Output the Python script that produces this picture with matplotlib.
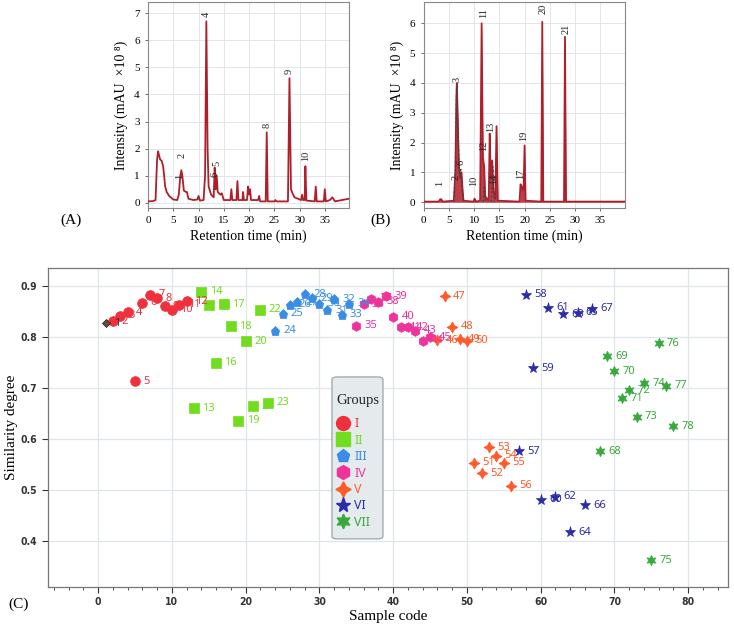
import numpy as np
import matplotlib
matplotlib.use("Agg")
import matplotlib.pyplot as plt
from matplotlib.lines import Line2D
from matplotlib.patches import FancyBboxPatch

SERIF = ['Liberation Serif', 'DejaVu Serif']
SANS = ['Noto Sans', 'DejaVu Sans']

# ---- chromatogram (A): retention time (min) / intensity (x10^8)
a_time = [0.0, 1.0, 1.5, 1.8, 2.0, 2.2, 2.4, 2.7, 3.0, 3.2, 3.4, 3.7, 4.2, 5.0, 5.8, 6.1, 6.4, 6.6, 6.8,
          7.1, 7.5, 7.7, 8.0, 9.0, 9.8, 10.0, 10.3, 11.0, 11.3, 11.55, 11.8, 12.0, 12.5, 13.0, 13.2, 13.4,
          13.6, 13.8, 14.3, 14.6, 15.0, 16.3, 16.5, 16.7, 17.5, 17.7, 17.9, 18.7, 18.8, 19.0, 19.6, 19.8,
          20.0, 20.2, 20.4, 21.8, 22.0, 22.2, 23.3, 23.5, 23.7, 25.0, 25.2, 25.4, 27.7, 28.0, 28.3, 28.6,
          29.0, 30.3, 30.5, 30.7, 31.0, 31.15, 31.35, 33.0, 33.2, 33.4, 34.8, 35.0, 35.2, 36.0, 36.5,
          37.0, 39.8]
a_int = [0.05, 0.06, 0.1, 1.6, 1.9, 1.75, 1.6, 1.55, 1.35, 1.0, 0.6, 0.4, 0.25, 0.12, 0.1, 0.3, 1.0, 1.2, 1.0,
         0.45, 0.4, 0.4, 0.15, 0.1, 0.12, 0.25, 0.08, 0.1, 1.0, 6.7, 2.0, 0.6, 0.3, 0.2, 1.3, 0.5,
         1.0, 0.4, 0.3, 0.35, 0.1, 0.1, 0.5, 0.1, 0.1, 0.8, 0.1, 0.1, 0.4, 0.1, 0.1, 0.6,
         0.3, 0.5, 0.1, 0.1, 0.25, 0.05, 0.05, 2.6, 0.05, 0.05, 0.1, 0.05, 0.05, 4.6, 0.5, 0.35,
         0.2, 0.1, 0.3, 0.1, 0.1, 1.35, 0.08, 0.05, 0.6, 0.05, 0.05, 0.5, 0.05, 0.1, 0.2,
         0.05, 0.15]
a_peak_labels = ['1', '2', '4', '5', '6', '8', '9', '10']
a_peak_time = [6.2, 6.7, 11.6, 13.6, 13.3, 23.6, 27.9, 31.2]
a_peak_y = [0.98, 1.75, 6.95, 1.45, 1.05, 2.85, 4.85, 1.72]

# ---- chromatogram (B)
b_time = [0.0, 3.0, 3.3, 3.5, 3.8, 6.0, 6.3, 6.5, 6.6, 6.75, 7.0, 7.3, 7.5, 7.7, 7.9, 9.9, 10.1, 10.4,
          11.2, 11.5, 11.75, 12.0, 12.2, 12.9, 13.1, 13.3, 13.6, 13.8, 14.2, 14.45, 14.7, 19.0, 19.2,
          19.5, 19.8, 20.0, 20.2, 23.3, 23.5, 23.7, 27.8, 28.0, 28.2, 39.8]
b_int = [0.02, 0.02, 0.1, 0.1, 0.02, 0.05, 1.0, 3.5, 4.0, 3.0, 1.2, 0.8, 1.0, 0.5, 0.05, 0.02, 0.12, 0.02,
         0.05, 6.0, 1.5, 1.2, 0.2, 0.05, 2.3, 0.8, 1.4, 0.4, 0.1, 2.55, 0.05, 0.02, 0.6,
         0.5, 0.4, 1.9, 0.05, 0.02, 6.05, 0.02, 0.02, 5.55, 0.02, 0.02]
b_dash_time = [6.0, 6.3, 6.55, 6.8, 7.1, 7.4, 7.7, 8.0, np.nan, 11.8, 12.0, 12.3, np.nan, 13.4, 13.7, 14.0]
b_dash_int = [0.0, 1.0, 3.9, 2.5, 0.9, 1.1, 0.3, 0.0, np.nan, 0.0, 0.5, 0.0, np.nan, 0.0, 1.2, 0.0]
b_peak_labels = ['1', '2', '3', '6', '10', '11', '12', '13', '14', '17', '19', '20', '21']
b_peak_time = [3.2, 6.4, 6.6, 7.5, 10.0, 11.8, 11.9, 13.3, 13.8, 19.3, 19.9, 23.6, 28.2]
b_peak_y = [0.64, 0.83, 4.13, 1.33, 0.72, 6.35, 1.9, 2.53, 0.77, 0.94, 2.23, 6.5, 5.8]

# ---- similarity (C)
groups = ['I', 'II', 'III', 'IV', 'V', 'VI', 'VII']
group_first = [1, 13, 24, 35, 46, 57, 68]
sim_I = [0.827, 0.831, 0.841, 0.848, 0.713, 0.867, 0.883, 0.876, 0.860, 0.853, 0.863, 0.870]
sim_II = [0.660, 0.888, 0.863, 0.749, 0.864, 0.821, 0.636, 0.791, 0.664, 0.853, 0.671]
sim_III = [0.812, 0.845, 0.863, 0.868, 0.884, 0.876, 0.865, 0.852, 0.874, 0.843, 0.865]
sim_IV = [0.822, 0.864, 0.875, 0.869, 0.880, 0.839, 0.819, 0.819, 0.812, 0.792, 0.799]
sim_V = [0.793, 0.880, 0.820, 0.795, 0.792, 0.553, 0.533, 0.584, 0.567, 0.553, 0.508]
sim_VI = [0.576, 0.883, 0.738, 0.481, 0.857, 0.487, 0.844, 0.417, 0.847, 0.470, 0.855]
sim_VII = [0.576, 0.762, 0.733, 0.680, 0.695, 0.643, 0.709, 0.362, 0.787, 0.704, 0.625]
group_sims = [sim_I, sim_II, sim_III, sim_IV, sim_V, sim_VI, sim_VII]

colors = ['#f0303c', '#72dc1e', '#3a8de4', '#ee339a', '#ff5a2a', '#2c2cab', '#37a93a']
markers = ['o', 's', 'p', 'h', (4, 1, 0), '*', (6, 1, 0)]
msizes = [7, 6.5, 6.5, 7, 8, 8, 7.5]

fig = plt.figure(figsize=(7.34, 6.27), dpi=100)


def chromatogram(rect, t, y, ylim, yticks, labels, lt, ly, dash=None):
    ax = fig.add_axes(rect)
    ax.plot(t, y, color='#b01e2a', lw=1.3, zorder=3)
    if dash is not None:
        ax.fill_between(t, y, 0, color='#b01e2a', alpha=0.85, lw=0, zorder=2)
        ax.plot(dash[0], dash[1], color='#444444', lw=0.9, ls=(0, (2, 1.5)), zorder=4)
    for lab, x, yy in zip(labels, lt, ly):
        ax.text(x, yy, lab, rotation=90, ha='center', va='center', fontsize=7.5,
                family=SERIF, color='#222222', zorder=5)
    ax.set_xlim(0, 39.8)
    ax.set_ylim(*ylim)
    ax.set_xticks(range(0, 40, 5))
    ax.set_yticks(yticks)
    ax.grid(True, color='#e2e6e8', lw=0.7)
    ax.set_axisbelow(True)
    for s in ax.spines.values():
        s.set_color('#888888')
        s.set_linewidth(0.8)
    ax.tick_params(labelsize=8, length=2.5, width=0.6, color='#555555')
    for lbl in ax.get_xticklabels() + ax.get_yticklabels():
        lbl.set_family(SERIF)
    ax.set_xlabel('Retention time (min)', family=SERIF, fontsize=10, labelpad=3)
    ax.set_ylabel('Intensity (mAU  \u00d710 \u2078)', family=SERIF, fontsize=10, labelpad=4)
    return ax


axA = chromatogram([0.2016, 0.668, 0.274, 0.329], a_time, a_int, (-0.2, 7.42), range(0, 8),
                   a_peak_labels, a_peak_time, a_peak_y)
axB = chromatogram([0.577, 0.668, 0.274, 0.329], b_time, b_int, (-0.2, 6.72), range(0, 7),
                   b_peak_labels, b_peak_time, b_peak_y, dash=(b_dash_time, b_dash_int))

fig.text(0.082, 0.66, '(A)', family=SERIF, fontsize=11, va='top')
fig.text(0.505, 0.66, '(B)', family=SERIF, fontsize=11, va='top')
fig.text(0.012, 0.036, '(C)', family=SERIF, fontsize=11, va='center')

# ---- panel C
axC = fig.add_axes([0.0654, 0.064, 0.9264, 0.5086])
for gi, sims in enumerate(group_sims):
    codes = list(range(group_first[gi], group_first[gi] + len(sims)))
    for code, s in zip(codes, sims):
        if code == 1:
            axC.plot(code, s, marker='D', ms=4.5, color='#6e4a3a', mec='#3a2a20', mew=0.6, zorder=4)
            lc = '#333333'
        else:
            axC.plot(code, s, marker=markers[gi], ms=msizes[gi], color=colors[gi],
                     mec=colors[gi], mew=0.5, ls='none', zorder=3)
            lc = colors[gi]
        axC.annotate(str(code), (code, s), xytext=(6, 0), textcoords='offset points',
                     ha='left', va='center', fontsize=8, color=lc, family=SANS, zorder=5)

axC.set_xlim(-6.8, 85.4)
axC.set_ylim(0.31, 0.935)
axC.set_xticks(range(0, 90, 10))
axC.set_xticks(range(-6, 86, 2), minor=True)
axC.set_yticks([0.4, 0.5, 0.6, 0.7, 0.8, 0.9])
axC.set_yticklabels(['0.4', '0.5', '0.6', '0.7', '0.8', '0.9'])
axC.grid(True, which='major', color='#dfe5e8', lw=0.9)
axC.set_axisbelow(True)
for s in axC.spines.values():
    s.set_color('#777777')
    s.set_linewidth(0.9)
axC.tick_params(which='major', length=4, width=0.8, labelsize=7.5, color='#333333')
axC.tick_params(which='minor', length=2.5, width=0.6, color='#333333')
for lbl in axC.get_xticklabels() + axC.get_yticklabels():
    lbl.set_family(['DejaVu Sans'])
    lbl.set_fontstretch('condensed')
    lbl.set_fontweight('bold')
    lbl.set_color('#333333')
axC.set_xlabel('Sample code', family=SERIF, fontsize=11, labelpad=2)
axC.set_ylabel('Similarity degree', family=SERIF, fontsize=11, labelpad=2)

# legend box drawn separately, title and entries placed inside it
box = FancyBboxPatch((0.4176, 0.1505), 0.075, 0.5078, transform=axC.transAxes,
                     boxstyle='round,pad=0,rounding_size=0.008', facecolor='#e5eaec',
                     edgecolor='#9aa4a8', lw=0.9, zorder=6)
axC.add_patch(box)
axC.text(0.4551, 0.583, 'Groups', transform=axC.transAxes, ha='center', va='center',
         family=SERIF, fontsize=10.5, color='#222222', zorder=7)
handles = [Line2D([], [], marker=markers[i], ms=msizes[i] + 3, color=colors[i], mec=colors[i],
                  ls='none') for i in range(len(groups))]
leg = axC.legend(handles, groups, loc='upper left', bbox_to_anchor=(0.4176, 0.545),
                 frameon=False, handlelength=1.0, handletextpad=0.45, labelspacing=0.27,
                 borderpad=0.35, borderaxespad=0, prop={'family': SANS, 'size': 9})
leg.set_zorder(7)
for txt, c in zip(leg.get_texts(), colors):
    txt.set_color(c)

fig.savefig('out.png', dpi=100)
